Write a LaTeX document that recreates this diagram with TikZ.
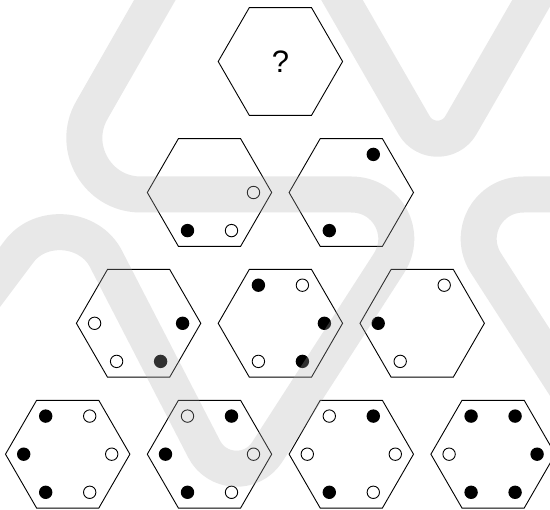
\documentclass[tikz,border=0pt]{standalone}
\usepackage{fontspec}
\setmainfont{Liberation Sans}
\usetikzlibrary{shapes.geometric,calc}
\begin{document}
\begin{tikzpicture}[x=1pt,y=-1pt,
  hexa/.style={draw=black, line width=0.9pt, regular polygon, regular polygon sides=6,
               minimum size=124.4pt, inner sep=0pt},
  fdot/.style={circle, fill=black, minimum size=13.4pt, inner sep=0pt},
  odot/.style={circle, draw=black, fill=white, line width=0.9pt, minimum size=12.4pt, inner sep=0pt},
  wm/.style={line width=36pt, draw=black!32, draw opacity=0.28, line cap=butt, line join=round}]
\useasboundingbox (0,0) rectangle (550,510);
\fill[white] (0,0) rectangle (550,510);
\clip (0,0) rectangle (550,510);

% row 1
\node[hexa] (h1) at (280.4,61.5) {\fontsize{31}{36}\selectfont ?};
% row 2
\node[hexa] (h2) at (209.5,192.5) {};
\node[hexa] (h3) at (351.3,192.5) {};
% row 3
\node[hexa] (h4) at (138.6,323.3) {};
\node[hexa] (h5) at (280.4,323.3) {};
\node[hexa] (h6) at (422.2,323.3) {};
% row 4
\node[hexa] (h7) at (67.7,454.2) {};
\node[hexa] (h8) at (209.5,454.2) {};
\node[hexa] (h9) at (351.3,454.2) {};
\node[hexa] (h10) at (493.1,454.2) {};

% dots: R (44,0) L (-44,0) TR (22,-38.1) TL (-22,-38.1) BR (22,38.1) BL (-22,38.1)
% h2
\node[odot] (d2r)  at ($(h2)+(44,0)$) {};
\node[fdot] (d2bl) at ($(h2)+(-22,38.1)$) {};
\node[odot] (d2br) at ($(h2)+(22,38.1)$) {};
% h3
\node[fdot] (d3tr) at ($(h3)+(22,-38.1)$) {};
\node[fdot] (d3bl) at ($(h3)+(-22,38.1)$) {};
% h4
\node[odot] (d4l)  at ($(h4)+(-44,0)$) {};
\node[fdot] (d4r)  at ($(h4)+(44,0)$) {};
\node[odot] (d4bl) at ($(h4)+(-22,38.1)$) {};
\node[fdot] (d4br) at ($(h4)+(22,38.1)$) {};
% h5
\node[fdot] (d5tl) at ($(h5)+(-22,-38.1)$) {};
\node[odot] (d5tr) at ($(h5)+(22,-38.1)$) {};
\node[fdot] (d5r)  at ($(h5)+(44,0)$) {};
\node[odot] (d5bl) at ($(h5)+(-22,38.1)$) {};
\node[fdot] (d5br) at ($(h5)+(22,38.1)$) {};
% h6
\node[odot] (d6tr) at ($(h6)+(22,-38.1)$) {};
\node[fdot] (d6l)  at ($(h6)+(-44,0)$) {};
\node[odot] (d6bl) at ($(h6)+(-22,38.1)$) {};
% h7
\node[fdot] (d7tl) at ($(h7)+(-22,-38.1)$) {};
\node[odot] (d7tr) at ($(h7)+(22,-38.1)$) {};
\node[fdot] (d7l)  at ($(h7)+(-44,0)$) {};
\node[odot] (d7r)  at ($(h7)+(44,0)$) {};
\node[fdot] (d7bl) at ($(h7)+(-22,38.1)$) {};
\node[odot] (d7br) at ($(h7)+(22,38.1)$) {};
% h8
\node[odot] (d8tl) at ($(h8)+(-22,-38.1)$) {};
\node[fdot] (d8tr) at ($(h8)+(22,-38.1)$) {};
\node[fdot] (d8l)  at ($(h8)+(-44,0)$) {};
\node[odot] (d8r)  at ($(h8)+(44,0)$) {};
\node[fdot] (d8bl) at ($(h8)+(-22,38.1)$) {};
\node[odot] (d8br) at ($(h8)+(22,38.1)$) {};
% h9
\node[odot] (d9tl) at ($(h9)+(-22,-38.1)$) {};
\node[fdot] (d9tr) at ($(h9)+(22,-38.1)$) {};
\node[odot] (d9l)  at ($(h9)+(-44,0)$) {};
\node[odot] (d9r)  at ($(h9)+(44,0)$) {};
\node[fdot] (d9bl) at ($(h9)+(-22,38.1)$) {};
\node[odot] (d9br) at ($(h9)+(22,38.1)$) {};
% h10
\node[fdot] (d10tl) at ($(h10)+(-22,-38.1)$) {};
\node[fdot] (d10tr) at ($(h10)+(22,-38.1)$) {};
\node[odot] (d10l)  at ($(h10)+(-44,0)$) {};
\node[fdot] (d10r)  at ($(h10)+(44,0)$) {};
\node[fdot] (d10bl) at ($(h10)+(-22,38.1)$) {};
\node[fdot] (d10br) at ($(h10)+(22,38.1)$) {};

% watermark (translucent grey band on top)
\coordinate (w0) at (172,-30);
\coordinate (w1) at (43.6,194.5);
\coordinate (w2) at (433.3,194.5);
\coordinate (w3) at (233,505);
\coordinate (w4) at (68.3,185.9);
\coordinate (w5) at (-60,357);
\draw[wm] (w0) -- ($(w1)!97pt!(w0)$)
  .. controls ($(w1)!54pt!(w0)$) and ($(w1)!54pt!(w2)$) .. ($(w1)!97pt!(w2)$)
  -- ($(w2)!82pt!(w1)$)
  .. controls ($(w2)!46pt!(w1)$) and ($(w2)!46pt!(w3)$) .. ($(w2)!82pt!(w3)$)
  -- ($(w3)!63pt!(w2)$)
  .. controls ($(w3)!35pt!(w2)$) and ($(w3)!35pt!(w4)$) .. ($(w3)!63pt!(w4)$)
  -- ($(w4)!82pt!(w3)$)
  .. controls ($(w4)!46pt!(w3)$) and ($(w4)!46pt!(w5)$) .. ($(w4)!82pt!(w5)$)
  -- (w5);
\coordinate (v0) at (324.7,-30);
\coordinate (v1) at (437.5,165.8);
\coordinate (v2) at (550.3,-30);
\draw[wm] (v0) -- ($(v1)!47pt!(v0)$)
  .. controls ($(v1)!26pt!(v0)$) and ($(v1)!26pt!(v2)$) .. ($(v1)!47pt!(v2)$)
  -- (v2);
\coordinate (u0) at (600,194.5);
\coordinate (u1) at (441.7,194.5);
\coordinate (u2) at (587,420);
\draw[wm] (u0) -- ($(u1)!82pt!(u0)$)
  .. controls ($(u1)!46pt!(u0)$) and ($(u1)!46pt!(u2)$) .. ($(u1)!82pt!(u2)$)
  -- (u2);
\end{tikzpicture}
\end{document}
